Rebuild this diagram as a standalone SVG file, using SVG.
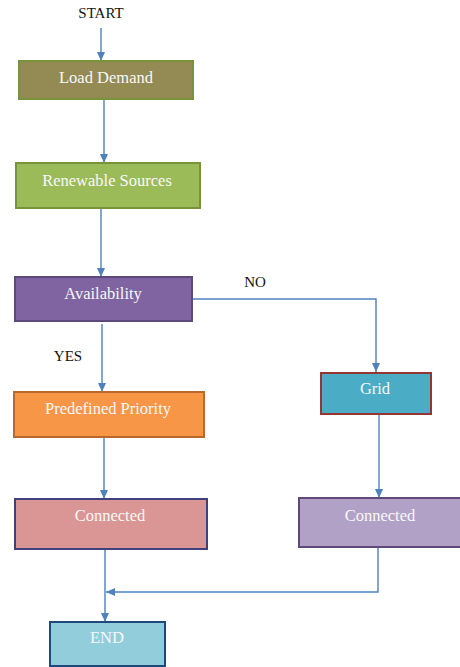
<svg xmlns="http://www.w3.org/2000/svg" width="460" height="667" viewBox="0 0 460 667">
<defs>
<marker id="arr" markerWidth="9" markerHeight="8" refX="9" refY="4" orient="auto" markerUnits="userSpaceOnUse">
<path d="M0,0 L9,4 L0,8 Z" fill="#4f81bd"/>
</marker>
<style>
.box{stroke-width:2}
.t{font-family:"Liberation Serif","Times New Roman",serif;font-size:16.5px;fill:#f8f8f8;text-anchor:middle}
.lbl{font-family:"Liberation Serif","Times New Roman",serif;font-size:15px;fill:#111;text-anchor:middle}
.c{fill:none;stroke:#4f81bd;stroke-width:1.4}
</style>
</defs>
<rect width="460" height="667" fill="#ffffff"/>
<g id="connectors">
<line class="c" x1="101" y1="28" x2="101" y2="61" marker-end="url(#arr)"/>
<line class="c" x1="104" y1="99" x2="104" y2="163" marker-end="url(#arr)"/>
<line class="c" x1="101" y1="209" x2="101" y2="277" marker-end="url(#arr)"/>
<polyline class="c" points="193,299 376,299 376,372" marker-end="url(#arr)"/>
<line class="c" x1="102" y1="324" x2="102" y2="392" marker-end="url(#arr)"/>
<line class="c" x1="104" y1="437" x2="104" y2="499" marker-end="url(#arr)"/>
<line class="c" x1="379" y1="414" x2="379" y2="498" marker-end="url(#arr)"/>
<line class="c" x1="105" y1="549" x2="105" y2="622" marker-end="url(#arr)"/>
<polyline class="c" points="378,547 378,592 106,592" marker-end="url(#arr)"/>
</g>
<g id="start"><text class="lbl" x="101" y="18">START</text></g>
<g id="load-demand">
<rect class="box" x="19" y="61" width="174" height="38" fill="#948a54" stroke="#77933c"/>
<text class="t" x="106" y="83">Load Demand</text>
</g>
<g id="renewable-sources">
<rect class="box" x="16" y="163" width="184" height="45" fill="#9bbb59" stroke="#77933c"/>
<text class="t" x="107" y="186">Renewable Sources</text>
</g>
<g id="availability">
<rect class="box" x="15" y="277" width="177" height="44" fill="#8064a2" stroke="#5f497a"/>
<text class="t" x="103" y="299">Availability</text>
</g>
<g id="label-no"><text class="lbl" x="255" y="287">NO</text></g>
<g id="label-yes"><text class="lbl" x="68" y="361">YES</text></g>
<g id="grid">
<rect class="box" x="321" y="373" width="110" height="41" fill="#4bacc6" stroke="#943634"/>
<text class="t" x="375" y="394">Grid</text>
</g>
<g id="predefined-priority">
<rect class="box" x="14" y="392" width="190" height="45" fill="#f79646" stroke="#b9692d"/>
<text class="t" x="108" y="414">Predefined Priority</text>
</g>
<g id="connected-left">
<rect class="box" x="15" y="499" width="192" height="50" fill="#d99694" stroke="#40407a"/>
<text class="t" x="110" y="521">Connected</text>
</g>
<g id="connected-right">
<rect class="box" x="299" y="498" width="170" height="49" fill="#b2a1c7" stroke="#5f497a"/>
<text class="t" x="380" y="521">Connected</text>
</g>
<g id="end">
<rect class="box" x="50" y="622" width="115" height="44" fill="#92cddc" stroke="#1f497d"/>
<text class="t" x="107" y="643">END</text>
</g>
</svg>
